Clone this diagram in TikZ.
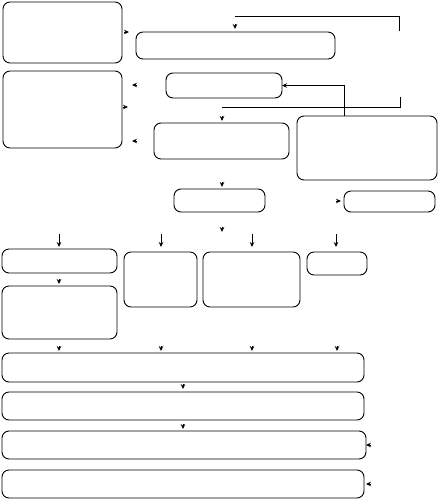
\documentclass[tikz,border=0pt]{standalone}
\usetikzlibrary{arrows.meta}
\tikzset{
  box/.style={draw, line width=0.9pt, rounded corners=7pt, inner sep=0pt, outer sep=0pt},
  conn/.style={line width=0.9pt},
  head/.style={line width=0.9pt, -{Stealth[length=5pt,width=4.5pt]}},
}
\newcommand{\bx}[5]{\node[box, anchor=north west, minimum width={(#4-#2)*1pt}, minimum height={(#5-#3)*1pt}] (#1) at (#2,#3) {};}
\newcommand{\hd}[4]{\draw[head] (#1,#2) -- ++(#3,#4);}
\begin{document}
\begin{tikzpicture}[x=1pt,y=-1pt]
\useasboundingbox (0,0) rectangle (438,499);
% boxes
\bx{A1}{3}{2}{122}{63}
\bx{A2}{3}{71}{122}{148}
\bx{B1}{136}{32}{335}{59}
\bx{B2}{166}{73}{282}{98}
\bx{B3}{154}{123}{289}{159}
\bx{R}{297}{116}{437}{180}
\bx{B4}{174}{189}{265}{212}
\bx{R2}{344}{191}{435}{212}
\bx{C1}{2}{249}{117}{273}
\bx{C1b}{2}{286}{117}{339}
\bx{C2}{124}{252}{197}{307}
\bx{C3}{203}{252}{300}{307}
\bx{C4}{307}{252}{367}{275}
\bx{D1}{2}{353}{364}{382}
\bx{D2}{2}{392}{364}{420}
\bx{D3}{2}{431}{366}{459}
\bx{D4}{2}{470}{364}{498}
% connectors
\coordinate (t1) at (399,31);
\coordinate (t2) at (235,16);
\draw[conn] (t1) |- (t2);
\coordinate (u1) at (400,97);
\coordinate (u2) at (222,107);
\draw[conn] (u1) |- (u2);
\draw[head] (R.north west) ++(47,0) |- (B2.east);
% floating arrow heads
\hd{124}{32}{5}{0}
\hd{235}{24}{0}{5}
\hd{137}{85}{-5}{0}
\hd{123}{107}{5}{0}
\hd{137}{141}{-5}{0}
\hd{222}{116}{0}{5}
\hd{222}{182}{0}{5}
\hd{336}{201}{5}{0}
\hd{222}{227}{0}{5}
\hd{59}{279}{0}{5}
\hd{183}{384}{0}{5}
\hd{183}{424}{0}{5}
\hd{371}{445}{-5}{0}
\hd{371}{484}{-5}{0}
\foreach \x in {59,161,252,337} {\hd{\x}{346}{0}{5}}
% short stemmed arrows
\foreach \x in {59,161,252,336} {\draw[head] (\x,234) -- (\x,247);}
\end{tikzpicture}
\end{document}
